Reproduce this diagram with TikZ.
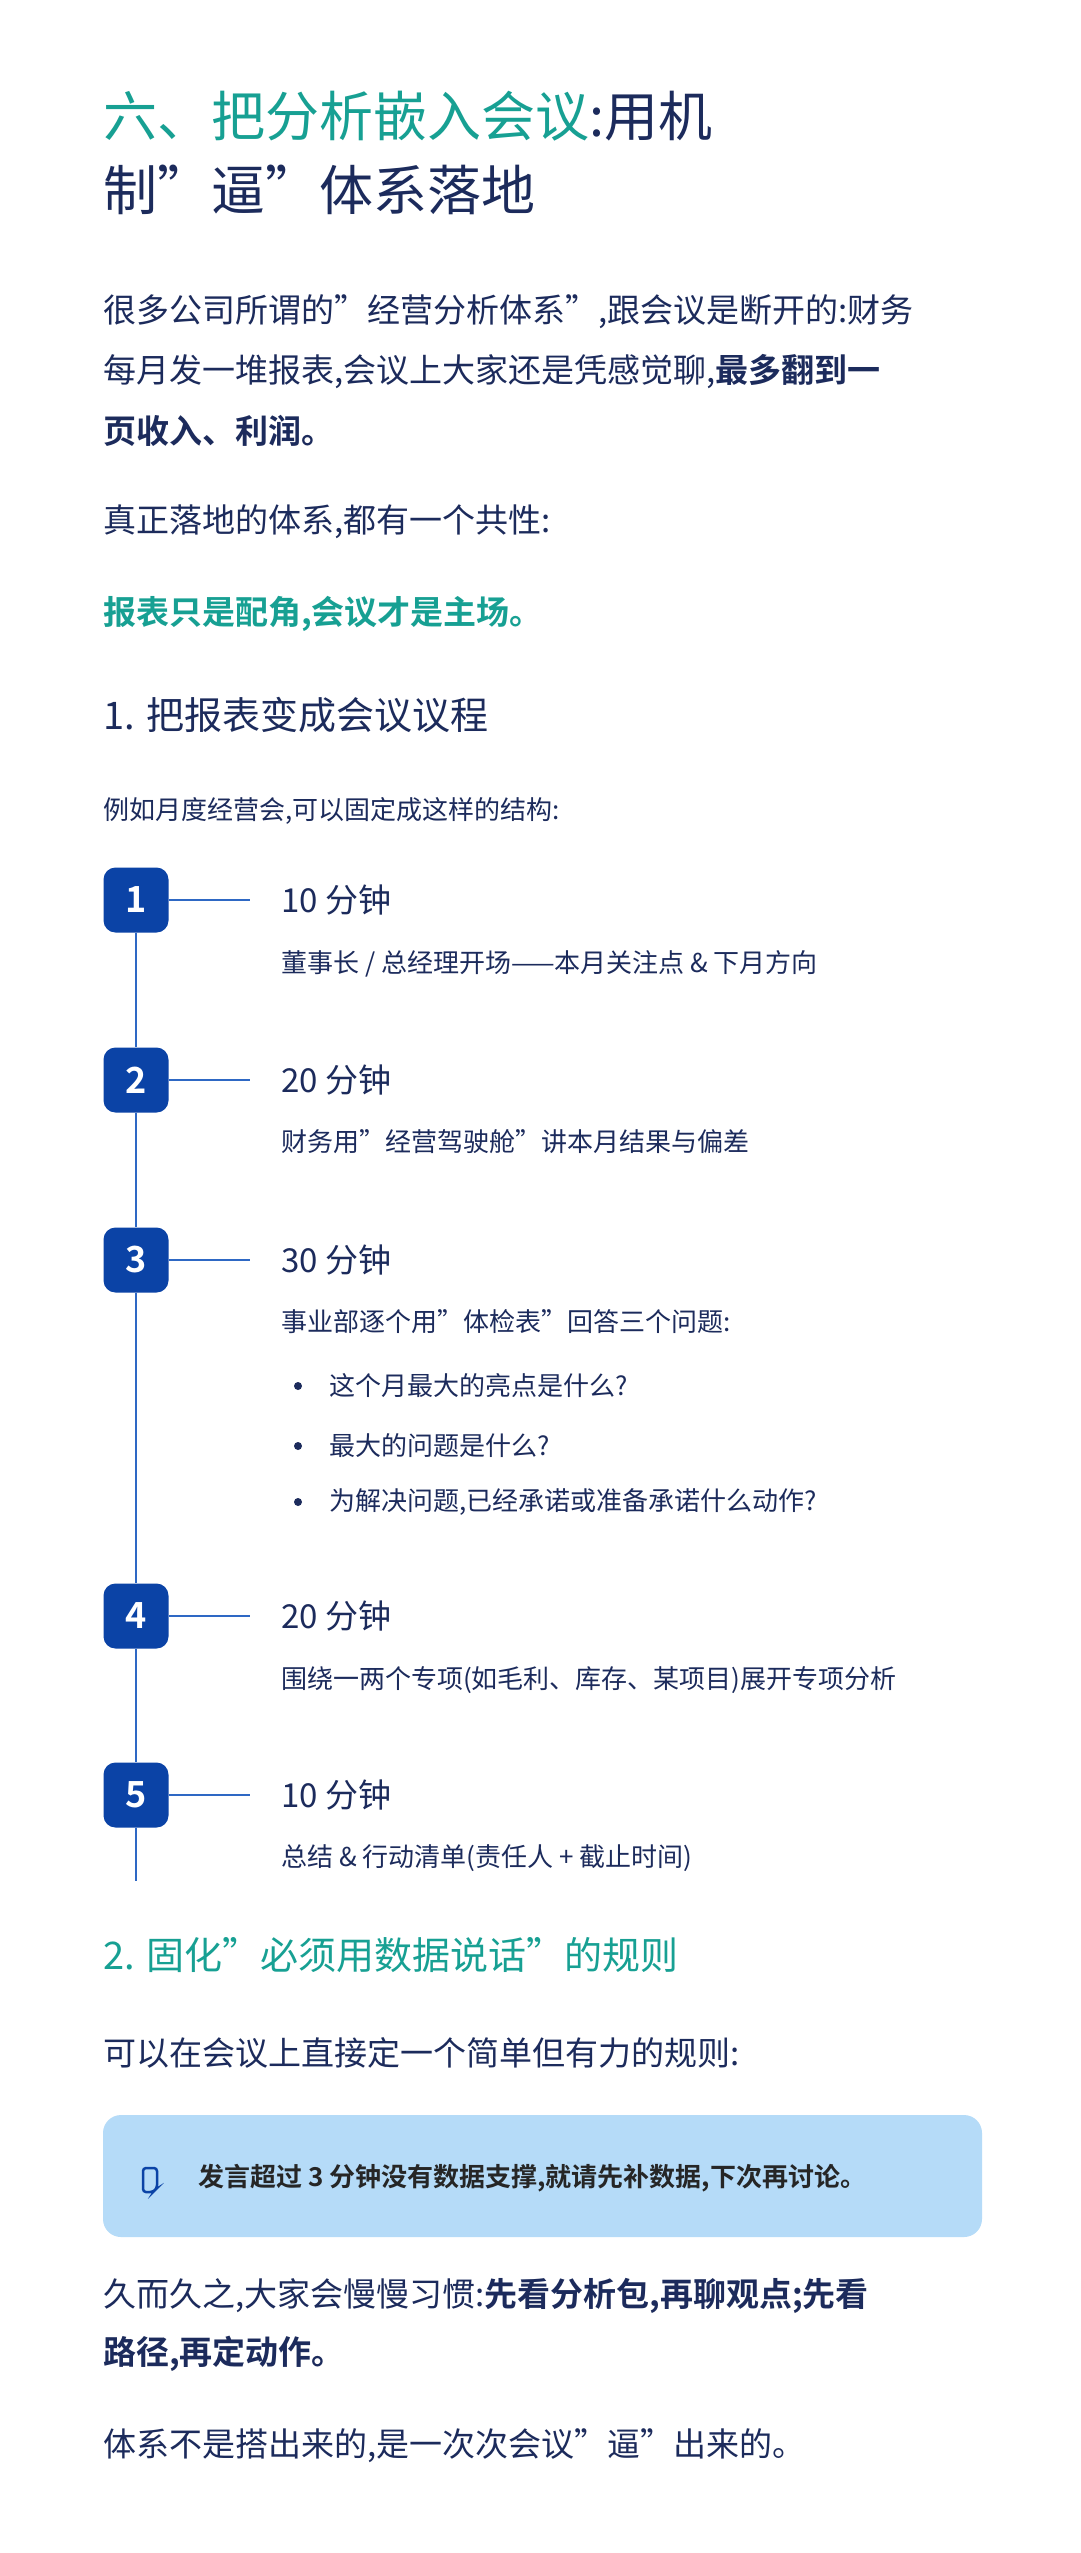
\documentclass[tikz,border=0pt]{standalone}
\usepackage{fontspec}
\setmainfont{Noto Sans CJK SC}[BoldFont={Noto Sans CJK SC Bold}]
\definecolor{teal1}{HTML}{17A093}
\definecolor{navy}{HTML}{1C2B5C}
\definecolor{boxblue}{HTML}{0B43A6}
\definecolor{lineblue}{HTML}{2E68C4}
\definecolor{callout}{HTML}{B5DBF8}
\tikzset{
  txt/.style={anchor=west,inner sep=0pt,text=navy},
  title/.style={txt,font=\fontsize{54}{60}\selectfont},
  body/.style={txt,font=\fontsize{33}{40}\selectfont},
  h2/.style={txt,font=\fontsize{38}{44}\selectfont},
  small/.style={txt,font=\fontsize{26}{32}\selectfont},
  stephead/.style={txt,font=\fontsize{33}{40}\selectfont},
  num/.style={draw=none,fill=boxblue,rounded corners=12pt,minimum size=65pt,inner sep=0pt,text=white,font=\fontsize{36}{40}\selectfont\bfseries},
  tl/.style={lineblue,line width=2.5pt},
  bul/.style={fill=navy,circle,inner sep=0pt,minimum size=8pt},
}
\begin{document}
\begin{tikzpicture}[x=1pt,y=-1pt]
\useasboundingbox (0,0) rectangle (1080,2553);
\fill[white] (0,0) rectangle (1080,2553);
\node[title] (t1) at (103,116) {\textcolor{teal1}{六、把分析嵌入会议}:用机};
\node[title] (t2) at (103,190) {制"逼"体系落地};
\node[body] (p1) at (103,312) {很多公司所谓的"经营分析体系",跟会议是断开的:财务};
\node[body] (p2) at (103,372) {每月发一堆报表,会议上大家还是凭感觉聊,\textbf{最多翻到一}};
\node[body] (p3) at (103,431) {\textbf{页收入、利润。}};
\node[body] (p4) at (103,522) {真正落地的体系,都有一个共性:};
\node[body,text=teal1,font=\fontsize{33}{40}\selectfont\bfseries] (p5) at (103,614) {报表只是配角,会议才是主场。};
\node[h2] (h1) at (103,715) {1. 把报表变成会议议程};
\node[small] (ex) at (103,811) {例如月度经营会,可以固定成这样的结构:};
% timeline
\coordinate (bottom) at (136,1881);
\node[num] (n1) at (136,900) {1};
\node[num] (n2) at (136,1080) {2};
\node[num] (n3) at (136,1260) {3};
\node[num] (n4) at (136,1616) {4};
\node[num] (n5) at (136,1795) {5};
\draw[tl] (n1.south) -- (n2.north);
\draw[tl] (n2.south) -- (n3.north);
\draw[tl] (n3.south) -- (n4.north);
\draw[tl] (n4.south) -- (n5.north);
\draw[tl] (n5.south) -- (bottom);
\foreach \i/\y in {1/900,2/1080,3/1260,4/1616,5/1795}{
  \coordinate (e\i) at (250,\y);
  \draw[tl] (n\i.east) -- (e\i);
}
\node[stephead] (s1) at (281,900) {10 分钟};
\node[small] (d1) at (281,964) {董事长 / 总经理开场——本月关注点 \& 下月方向};
\node[stephead] (s2) at (281,1080) {20 分钟};
\node[small] (d2) at (281,1142) {财务用"经营驾驶舱"讲本月结果与偏差};
\node[stephead] (s3) at (281,1260) {30 分钟};
\node[small] (d3) at (281,1322) {事业部逐个用"体检表"回答三个问题:};
\node[bul] (ba0) at (298,1386) {};
\node[small] (ba) at (329,1386) {这个月最大的亮点是什么?};
\node[bul] (bb0) at (298,1446) {};
\node[small] (bb) at (329,1446) {最大的问题是什么?};
\node[bul] (bc0) at (298,1502) {};
\node[small] (bc) at (329,1502) {为解决问题,已经承诺或准备承诺什么动作?};
\node[stephead] (s4) at (281,1616) {20 分钟};
\node[small] (d4) at (281,1680) {围绕一两个专项(如毛利、库存、某项目)展开专项分析};
\node[stephead] (s5) at (281,1795) {10 分钟};
\node[small] (d5) at (281,1858) {总结 \& 行动清单(责任人 + 截止时间)};
\node[h2,text=teal1] (h2b) at (103,1955) {2. 固化"必须用数据说话"的规则};
\node[body] (q1) at (103,2053) {可以在会议上直接定一个简单但有力的规则:};
\fill[callout,rounded corners=18pt] (103,2115) rectangle (982,2237);
\draw[boxblue,line width=2.5pt,rounded corners=3pt] (143,2168) -- (143,2192) -- (153,2192) -- (157,2188) -- (157,2168) -- cycle;
\node[txt,text=black!85,font=\fontsize{26}{32}\selectfont\bfseries] (rule) at (198,2178) {发言超过 3 分钟没有数据支撑,就请先补数据,下次再讨论。};
\node[body] (r1) at (103,2296) {久而久之,大家会慢慢习惯:\textbf{先看分析包,再聊观点;先看}};
\node[body] (r2) at (103,2354) {\textbf{路径,再定动作。}};
\node[body] (r3) at (103,2446) {体系不是搭出来的,是一次次会议"逼"出来的。};
\end{tikzpicture}
\end{document}
